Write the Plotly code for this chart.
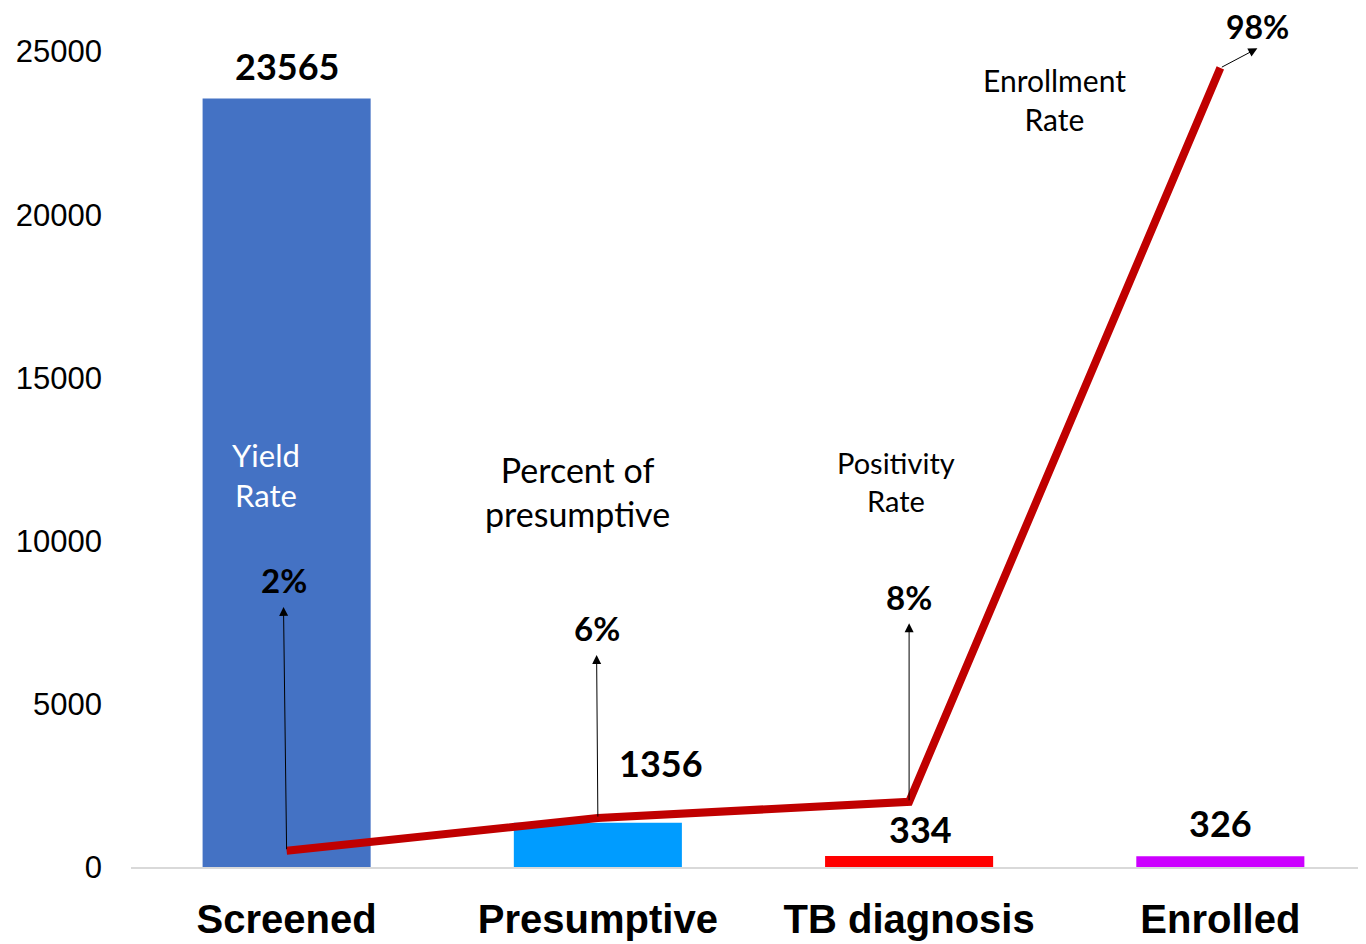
import plotly.graph_objects as go

categories = ["Screened", "Presumptive", "TB diagnosis", "Enrolled"]
counts = [23565, 1356, 334, 326]
rates = [0.02, 0.06, 0.08, 0.98]
rate_labels = ["2%", "6%", "8%", "98%"]
rate_names = ["Yield<br>Rate", "Percent of<br>presumptive", "Positivity<br>Rate", "Enrollment<br>Rate"]
bar_colors = ["#4472C4", "#009CFF", "#FF0000", "#CC00FF"]
y_ticks = [0, 5000, 10000, 15000, 20000, 25000]

Y_MAX = 26000
Y2_MAX = Y_MAX / 25000.0

fig = go.Figure()
fig.add_trace(go.Bar(x=categories, y=counts, marker_color=bar_colors, width=0.54,
                     marker_line_width=0, showlegend=False))
fig.add_trace(go.Scatter(x=categories, y=rates, yaxis="y2", mode="lines",
                         line=dict(color="#C00000", width=8), showlegend=False))

# leader line for 1356 label
fig.add_trace(go.Scatter(x=[1.0, 1.01, 1.042], y=[counts[1], 3220, 3220], mode="lines",
                         line=dict(color="#A0A0A0", width=1.2), showlegend=False, hoverinfo="skip"))

FONT = "Lato, Noto Sans, sans-serif"
ann = []
val_font = dict(family=FONT, size=36, color="black")
# value labels
val_pos = [(0, 24559), (1.202, 3189), (2.037, 1165), (3, 1349)]
for i, (xp, yp) in enumerate(val_pos):
    ann.append(dict(x=xp, y=yp, xref="x", yref="y", text="<b>%d</b>" % counts[i],
                    showarrow=False, font=val_font))

# percentage labels with arrows
lab_pos = [(-0.01, 0.352, -0.01, 0.319), (0.996, 0.293, 0.996, 0.26), (2.0, 0.331, 2.0, 0.299),
           (3.119, 1.031, 3.119, 1.004)]
for i, (lx, ly, tx, ty) in enumerate(lab_pos):
    ann.append(dict(x=lx, y=ly, xref="x", yref="y2", text="<b>%s</b>" % rate_labels[i],
                    showarrow=False, font=dict(family=FONT, size=32 if i == 3 else 33, color="black")))
    ann.append(dict(x=tx, y=ty, xref="x", yref="y2", ax=i, ay=rates[i], axref="x", ayref="y2",
                    text="", showarrow=True, arrowhead=2, arrowsize=1.8, arrowwidth=1,
                    arrowcolor="black", standoff=0, startstandoff=0))

# rate name labels
name_pos = [(-0.0675, 0.481, "white", 31), (0.935, 0.46, "black", 34), (1.957, 0.473, "black", 29),
            (2.468, 0.941, "black", 30)]
for i, (xp, yp, col, sz) in enumerate(name_pos):
    ann.append(dict(x=xp, y=yp, xref="x", yref="y2", text=rate_names[i], showarrow=False,
                    font=dict(family=FONT, size=sz, color=col), align="center"))

fig.update_layout(
    width=1358, height=936,
    margin=dict(l=123, r=0, t=11, b=77),
    paper_bgcolor="white", plot_bgcolor="white",
    xaxis=dict(showgrid=False, showline=True, linecolor="#D9D9D9", linewidth=1.5,
               tickfont=dict(family="Liberation Sans, Arial, sans-serif", size=40, color="black"),
               ticks="", ticklabelstandoff=16,
               tickvals=categories, ticktext=["<b>%s</b>" % c for c in categories],
               range=[-0.5, 3.468]),
    yaxis=dict(range=[0, Y_MAX], tickvals=y_ticks, ticktext=[str(v) for v in y_ticks],
               showgrid=False, zeroline=False, showline=False, ticks="",
               tickfont=dict(family="Liberation Sans, Arial, sans-serif", size=31, color="black"),
               ticklabelstandoff=28),
    yaxis2=dict(range=[0, Y2_MAX], overlaying="y", side="right", visible=False),
    annotations=ann,
)

fig.write_html("out.html")
